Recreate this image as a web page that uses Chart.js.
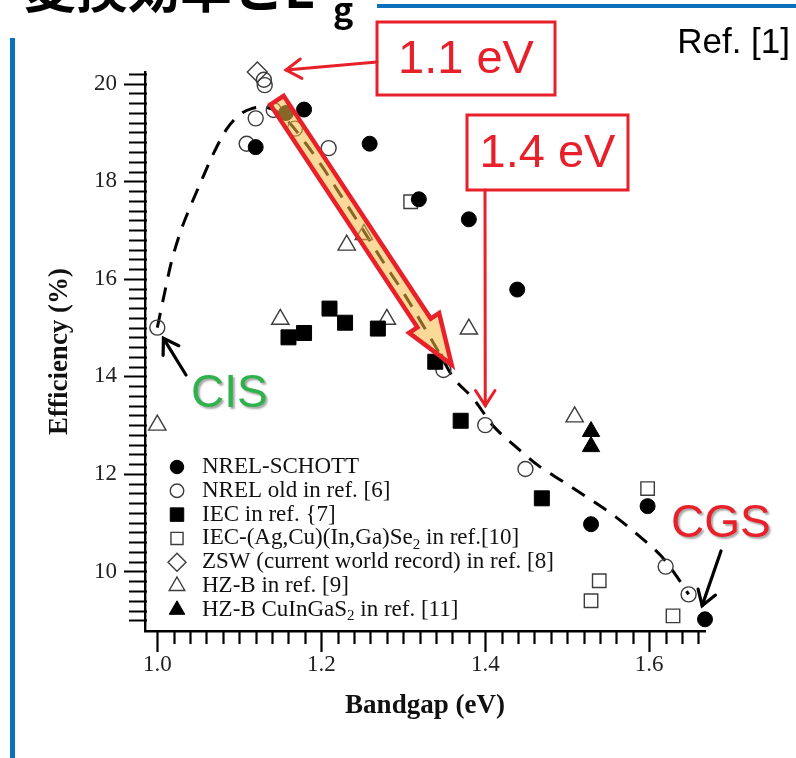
<!DOCTYPE html>
<html>
<head>
<meta charset="utf-8">
<script src="https://cdn.jsdelivr.net/npm/chart.js@4.4.0/dist/chart.umd.min.js"></script>
<style>
  html, body { margin: 0; padding: 0; background: #fff; }
  #wrap { position: relative; width: 796px; height: 758px; overflow: hidden; }
  canvas { display: block; }
</style>
</head>
<body>
<div id="wrap"><canvas id="chart" width="796" height="758"></canvas></div>
<script>
// ---- Measured cells: bandgap (eV) and efficiency (%) per group ----
const nrelSchottGap = [1.120, 1.157, 1.179, 1.259, 1.319, 1.380, 1.439, 1.529, 1.598, 1.668];
const nrelSchottEff = [18.70, 19.40, 19.47, 18.77, 17.63, 17.22, 15.78, 10.97, 11.34, 9.02];

const nrelOldGap = [1.000, 1.109, 1.120, 1.130, 1.131, 1.142, 1.168, 1.209, 1.349, 1.400, 1.449, 1.620, 1.648];
const nrelOldEff = [15.00, 18.77, 19.29, 20.08, 19.97, 19.46, 19.08, 18.68, 14.13, 13.00, 12.10, 10.10, 9.53];

const iecGap = [1.160, 1.179, 1.210, 1.229, 1.269, 1.339, 1.370, 1.469];
const iecEff = [14.80, 14.89, 15.39, 15.10, 14.98, 14.30, 13.09, 11.50];

const iecAgGap = [1.309, 1.529, 1.539, 1.598, 1.629];
const iecAgEff = [17.58, 9.40, 9.81, 11.70, 9.09];

const zswGap = [1.122];
const zswEff = [20.24];

const hzbGap = [1.000, 1.150, 1.231, 1.252, 1.280, 1.380, 1.509];
const hzbEff = [13.00, 15.17, 16.69, 16.91, 15.17, 14.97, 13.17];

const hzbSulfideGap = [1.529, 1.529];
const hzbSulfideEff = [12.87, 12.56];

// Dashed trend curve through the data
const trendGap = [1.000, 1.007, 1.017, 1.028, 1.040, 1.053, 1.068, 1.085, 1.100, 1.115, 1.130, 1.145,
                  1.160, 1.180, 1.200, 1.225, 1.250, 1.275, 1.300, 1.325, 1.345, 1.360, 1.386, 1.409,
                  1.435, 1.464, 1.496, 1.527, 1.559, 1.589, 1.616, 1.638, 1.648];
const trendEff = [15.00, 15.56, 16.33, 16.95, 17.47, 17.98, 18.55, 19.08, 19.36, 19.49, 19.52, 19.44,
                  19.22, 18.80, 18.33, 17.68, 17.03, 16.36, 15.72, 15.02, 14.45, 14.00, 13.53, 13.00,
                  12.59, 12.18, 11.83, 11.49, 11.12, 10.71, 10.29, 9.79, 9.53];

// Axis tick labels
const xTickLabels = [1.0, 1.2, 1.4, 1.6];
const yTickLabels = [10, 12, 14, 16, 18, 20];

// Legend texts
const seriesLabels = [
  'NREL-SCHOTT',
  'NREL old in ref. [6]',
  'IEC in ref. {7]',
  'IEC-(Ag,Cu)(In,Ga)Se\u2082 in ref.[10]',
  'ZSW (current world record) in ref. [8]',
  'HZ-B in ref. [9]',
  'HZ-B CuInGaS\u2082 in ref. [11]'
];

const toPoints = (xs, ys) => xs.map((x, i) => ({ x, y: ys[i] }));

const SERIF = "'Liberation Serif', 'Times New Roman', serif";
const SANS = "'Liberation Sans', Arial, sans-serif";
const CJK = "'Noto Sans CJK JP', 'Noto Sans CJK SC', sans-serif";

const openGray = '#3c3c3c';
const clear = 'rgba(0,0,0,0)';

function markerSet(label, xs, ys, style, radius, filled, order) {
  return {
    label,
    data: toPoints(xs, ys),
    pointStyle: style,
    pointRadius: radius,
    pointHoverRadius: radius,
    pointBackgroundColor: filled ? '#000' : clear,
    pointBorderColor: filled ? '#000' : openGray,
    pointBorderWidth: filled ? 1 : 1.4,
    showLine: false,
    order,
    clip: false
  };
}

const datasets = [
  markerSet(seriesLabels[0], nrelSchottGap, nrelSchottEff, 'circle', 7.5, true, 1),
  markerSet(seriesLabels[1], nrelOldGap, nrelOldEff, 'circle', 7.5, false, 5),
  markerSet(seriesLabels[2], iecGap, iecEff, 'rect', 10.6, true, 1),
  markerSet(seriesLabels[3], iecAgGap, iecAgEff, 'rect', 9.5, false, 5),
  markerSet(seriesLabels[4], zswGap, zswEff, 'rectRot', 10, false, 5),
  markerSet(seriesLabels[5], hzbGap, hzbEff, 'triangle', 10, false, 5),
  markerSet(seriesLabels[6], hzbSulfideGap, hzbSulfideEff, 'triangle', 10, true, 1),
  {
    label: '',
    data: toPoints(trendGap, trendEff),
    showLine: true,
    pointRadius: 0,
    borderColor: '#000',
    borderWidth: 3,
    borderDash: [15, 11],
    cubicInterpolationMode: 'monotone',
    order: 10,
    clip: false
  }
];

// Tick marks: crossing ticks on the y axis, hanging ticks on the x axis
const axisTicks = {
  id: 'axisTicks',
  beforeDatasetsDraw(chart) {
    const { ctx, scales: { x, y } } = chart;
    ctx.save();
    ctx.strokeStyle = '#000';
    ctx.lineWidth = 2.2;
    ctx.beginPath();
    for (let k = 45; k <= 101; k++) {          // every 0.2 % from 9.0 to 20.2
      const py = Math.round(y.getPixelForValue(k / 5)) + 0.5;
      const major = k % 10 === 0;
      ctx.moveTo(x.left - (major ? 21 : 16), py);
      ctx.lineTo(x.left + 2, py);
    }
    for (let k = 50; k <= 83; k++) {           // every 0.02 eV from 1.00 to 1.66
      const px = Math.round(x.getPixelForValue(k / 50)) + 0.5;
      const major = k % 10 === 0;
      ctx.moveTo(px, y.bottom);
      ctx.lineTo(px, y.bottom + (major ? 21 : 13));
    }
    ctx.stroke();
    ctx.restore();
  }
};

function drawLabelText(ctx, text, x, y, size) {
  // renders "₂" as a lowered small 2
  const parts = text.split('\u2082');
  let cx = x;
  parts.forEach((part, i) => {
    ctx.font = size + 'px ' + SERIF;
    ctx.fillText(part, cx, y);
    cx += ctx.measureText(part).width;
    if (i < parts.length - 1) {
      ctx.font = Math.round(size * 0.66) + 'px ' + SERIF;
      ctx.fillText('2', cx, y + size * 0.28);
      cx += ctx.measureText('2').width;
    }
  });
}

const markerLegend = {
  id: 'markerLegend',
  afterDatasetsDraw(chart) {
    const ctx = chart.ctx;
    ctx.save();
    ctx.textBaseline = 'middle';
    ctx.textAlign = 'left';
    let row = 0;
    chart.data.datasets.forEach(ds => {
      if (!ds.label) return;
      const y = 467 + row * 23.8;
      ctx.fillStyle = ds.pointBackgroundColor;
      ctx.strokeStyle = ds.pointBorderColor;
      ctx.lineWidth = ds.pointBorderWidth;
      Chart.helpers.drawPoint(ctx, {
        pointStyle: ds.pointStyle,
        radius: ds.pointRadius * 0.9,
        borderWidth: ds.pointBorderWidth,
        rotation: 0
      }, 177, y);
      ctx.fillStyle = '#111';
      drawLabelText(ctx, ds.label, 202, y, 23);
      row++;
    });
    ctx.restore();
  }
};

function arrowHead(ctx, fx, fy, tx, ty, len, spread) {
  const a = Math.atan2(ty - fy, tx - fx);
  ctx.beginPath();
  ctx.moveTo(tx - len * Math.cos(a - spread), ty - len * Math.sin(a - spread));
  ctx.lineTo(tx, ty);
  ctx.lineTo(tx - len * Math.cos(a + spread), ty - len * Math.sin(a + spread));
  ctx.stroke();
}

function pointerLine(ctx, fx, fy, tx, ty, color, width, head) {
  ctx.strokeStyle = color;
  ctx.lineWidth = width;
  ctx.lineCap = 'round';
  ctx.lineJoin = 'miter';
  ctx.beginPath();
  ctx.moveTo(fx, fy);
  ctx.lineTo(tx, ty);
  ctx.stroke();
  arrowHead(ctx, fx, fy, tx, ty, head, Math.PI / 5.5);
}

function labelBox(ctx, text, l, t, r, b) {
  ctx.strokeStyle = '#e8202a';
  ctx.lineWidth = 3;
  ctx.strokeRect(l, t, r - l, b - t);
  ctx.fillStyle = '#e8202a';
  ctx.font = '47px ' + SANS;
  ctx.textAlign = 'center';
  ctx.textBaseline = 'middle';
  ctx.fillText(text, (l + r) / 2, (t + b) / 2 + 2);
}

// Slide overlays: highlight arrow, callouts and heading
const overlays = {
  id: 'overlays',
  afterDraw(chart) {
    const { ctx, scales: { x, y } } = chart;
    ctx.save();

    // translucent orange arrow following the falling branch
    const sx = x.getPixelForValue(1.146), sy = y.getPixelForValue(19.66);
    const ex = x.getPixelForValue(1.359), ey = y.getPixelForValue(14.24);
    const L = Math.hypot(ex - sx, ey - sy);
    const ux = (ex - sx) / L, uy = (ey - sy) / L;
    const px = uy, py = -ux;
    const sw = 8, hw = 18, hl = 50;
    const bx = ex - ux * hl, by = ey - uy * hl;
    ctx.beginPath();
    ctx.moveTo(sx + px * sw, sy + py * sw);
    ctx.lineTo(bx + px * sw, by + py * sw);
    ctx.lineTo(bx + px * hw, by + py * hw);
    ctx.lineTo(ex, ey);
    ctx.lineTo(bx - px * hw, by - py * hw);
    ctx.lineTo(bx - px * sw, by - py * sw);
    ctx.lineTo(sx - px * sw, sy - py * sw);
    ctx.closePath();
    ctx.fillStyle = 'rgba(247, 185, 70, 0.55)';
    ctx.fill();
    ctx.lineJoin = 'miter';
    ctx.strokeStyle = '#e8202a';
    ctx.lineWidth = 4.5;
    ctx.stroke();

    // 1.1 eV and 1.4 eV callouts
    labelBox(ctx, '1.1 eV', 377, 22, 555, 95);
    pointerLine(ctx, 377, 62, x.getPixelForValue(1.157), y.getPixelForValue(20.28), '#e8202a', 3, 18);
    labelBox(ctx, '1.4 eV', 467, 115, 628, 190);
    pointerLine(ctx, 485, 190, x.getPixelForValue(1.4), y.getPixelForValue(13.4), '#e8202a', 3, 18);

    // end members
    pointerLine(ctx, 186, 375, x.getPixelForValue(1.0075), y.getPixelForValue(14.78), '#000', 3.2, 17);
    pointerLine(ctx, 721, 551, x.getPixelForValue(1.6645), y.getPixelForValue(9.3), '#000', 3.2, 17);
    ctx.font = '46px ' + SANS;
    ctx.textAlign = 'left';
    ctx.textBaseline = 'alphabetic';
    ctx.shadowColor = 'rgba(0,0,0,0.35)';
    ctx.shadowOffsetX = 2;
    ctx.shadowOffsetY = 2;
    ctx.shadowBlur = 2;
    ctx.fillStyle = '#2fb14b';
    ctx.fillText('CIS', 191, 407);
    ctx.fillStyle = '#e8202a';
    ctx.fillText('CGS', 671, 537);
    ctx.shadowColor = 'rgba(0,0,0,0)';

    // reference tag
    ctx.fillStyle = '#000';
    ctx.font = '35px ' + SANS;
    ctx.textAlign = 'right';
    ctx.fillText('Ref. [1]', 790, 53);

    // heading (runs off the top edge) and slide rules
    ctx.textAlign = 'left';
    ctx.font = 'bold 52px ' + CJK;
    ctx.fillText('\u5909\u63db\u52b9\u7387\u3068E', 24, 8);
    ctx.font = 'bold 34px ' + CJK;
    ctx.fillText('g', 333, 22);
    ctx.fillStyle = '#0b70bd';
    ctx.fillRect(377, 4, 419, 4);
    ctx.fillRect(10, 38, 5, 720);
    ctx.restore();
  }
};

new Chart(document.getElementById('chart'), {
  type: 'scatter',
  data: { datasets },
  options: {
    responsive: false,
    animation: false,
    events: [],
    layout: { padding: { left: 0, top: 72, right: 91, bottom: 0 } },
    plugins: { legend: { display: false }, tooltip: { enabled: false } },
    scales: {
      x: {
        type: 'linear',
        min: 0.985,
        max: 1.668,
        afterFit: s => { s.height = 127; },
        afterBuildTicks: s => { s.ticks = xTickLabels.map(v => ({ value: v })); },
        grid: { display: false, drawTicks: false },
        border: { display: true, color: '#000', width: 2.4 },
        ticks: {
          padding: 20,
          color: '#222',
          font: { family: SERIF, size: 23 },
          callback: v => v.toFixed(1),
          maxRotation: 0
        },
        title: {
          display: true,
          text: 'Bandgap (eV)',
          color: '#111',
          font: { family: SERIF, size: 27, weight: 'bold' },
          padding: { top: 0, bottom: 36 }
        }
      },
      y: {
        type: 'linear',
        min: 8.78,
        max: 20.24,
        afterFit: s => { s.width = 145; },
        afterBuildTicks: s => { s.ticks = yTickLabels.map(v => ({ value: v })); },
        grid: { display: false, drawTicks: false },
        border: { display: true, color: '#000', width: 2.4 },
        ticks: {
          padding: 28,
          color: '#222',
          font: { family: SERIF, size: 23 },
          callback: v => String(v)
        },
        title: {
          display: true,
          text: 'Efficiency (%)',
          color: '#111',
          font: { family: SERIF, size: 27, weight: 'bold' },
          padding: { top: 44, bottom: 0 }
        }
      }
    }
  },
  plugins: [axisTicks, markerLegend, overlays]
});
</script>
</body>
</html>
